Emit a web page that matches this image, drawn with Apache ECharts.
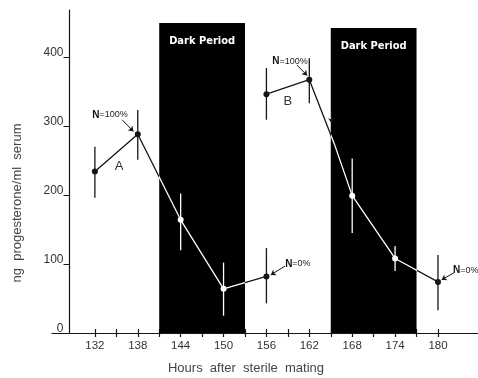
<!DOCTYPE html>
<html>
<head>
<meta charset="utf-8">
<script src="https://cdn.jsdelivr.net/npm/echarts@6/dist/echarts.min.js"></script>
<style>
html,body{margin:0;padding:0;background:#fff;}
#c{width:478px;height:378px;}
</style>
</head>
<body>
<div id="c"></div>
<script>
// ---- data ----
const hoursA = [132, 138, 144, 150, 156];
const meanA  = [234, 288, 164, 64, 82];
const lowA   = [196, 251, 120, 25, 43];
const highA  = [270, 323, 202, 102, 123];

const hoursB = [156, 162, 168, 174, 180];
const meanB  = [346, 367, 199, 108, 74];
const lowB   = [309, 333, 145, 90, 33];
const highB  = [384, 398, 253, 126, 113];
const kinkB  = [165.5, 274];   // bend of curve B at onset of darkness

const darkPeriods = [[141, 153], [165, 177]];
const darkTops = [449, 442];
const darkLabel = 'Dark Period';

const xTickValues  = [132,135,138,141,144,147,150,153,156,159,162,165,168,171,174,177,180];
const xLabelValues = [132,138,144,150,156,162,168,174,180];
const yTickValues  = [0,100,200,300,400];

const xTitle = 'Hours  after  sterile  mating';
const yTitle = 'ng  progesterone/ml  serum';

// annotations: [x, y, text]
const annoTexts = [
  [134.1, 316, '{b|N}=100%'],
  [159.3, 394, '{b|N}=100%'],
  [160.4, 100, '{b|N}=0%'],
  [183.9, 91, '{b|N}=0%'],
  [135.4, 242, 'A'],
  [159.0, 335, 'B']
];
// arrows: [x1,y1,x2,y2]
const annoArrows = [
  [135.8, 309, 137.4, 292],
  [160.3, 388, 161.7, 373],
  [158.6, 97, 156.6, 84],
  [182.2, 87, 180.5, 77],
  [165.1, 320, 165.1, 304]
];

// ---- build ----
const inDark = x => darkPeriods.some(p => x > p[0] && x < p[1]);
const lineA = hoursA.map((h, i) => [h, meanA[i]]);
const lineB = [[hoursB[0], meanB[0]], [hoursB[1], meanB[1]],
  {value: kinkB, symbol: 'none'},
  ...hoursB.slice(2).map((h, i) => [h, meanB[i + 2]])];
const errData = hoursA.map((h, i) => [h, lowA[i], highA[i]])
  .concat(hoursB.map((h, i) => [h, lowB[i], highB[i]]));

const FONT = "'Liberation Sans', Arial, sans-serif";
const INK = '#151515';

const chart = echarts.init(document.getElementById('c'), null, {renderer: 'canvas'});
const option = {
  backgroundColor: '#fff',
  animation: false,
  grid: {left: 52, right: 0, top: 10, bottom: 45, containLabel: false},
  xAxis: [{
    type: 'value', min: 126, max: 185.6,
    axisLine: {lineStyle: {color: INK, width: 1.2}},
    splitLine: {show: false},
    axisTick: {show: true, length: 4, customValues: xTickValues, lineStyle: {color: INK, width: 1.2}},
    axisLabel: {customValues: xLabelValues, margin: 7, color: '#333', fontSize: 11.5, fontFamily: FONT}
  }, {
    type: 'value', min: 126, max: 185.6, position: 'bottom',
    axisLine: {show: false},
    splitLine: {show: false},
    axisTick: {show: true, inside: true, length: 4, customValues: xTickValues, lineStyle: {color: INK, width: 1.2}},
    axisLabel: {show: false}
  }],
  yAxis: {
    type: 'value', min: 0, max: 468, offset: -17.5,
    axisLine: {show: true, lineStyle: {color: INK, width: 1.2}},
    splitLine: {show: false},
    axisTick: {show: true, length: 6, customValues: yTickValues, lineStyle: {color: INK, width: 1}},
    axisLabel: {customValues: yTickValues, margin: 6, color: '#333', fontSize: 12, fontFamily: FONT,
      verticalAlign: 'bottom', lineHeight: 8}
  },
  visualMap: {
    type: 'piecewise', show: false, dimension: 0, seriesIndex: [1, 2],
    pieces: darkPeriods.map(p => ({gt: p[0], lt: p[1], color: '#ffffff'})),
    outOfRange: {color: INK}
  },
  graphic: [
    {type: 'text', x: 17, y: 203, rotation: Math.PI / 2,
      style: {text: yTitle, fill: '#444', font: "13px 'Liberation Sans', Arial, sans-serif",
        textAlign: 'center', textVerticalAlign: 'middle'}},
    {type: 'text', x: 246, y: 368,
      style: {text: xTitle, fill: '#444', font: "13px 'Liberation Sans', Arial, sans-serif",
        textAlign: 'center', textVerticalAlign: 'middle'}}
  ],
  series: [
    {
      type: 'line', data: [], z: 1, silent: true,
      markArea: {
        silent: true,
        itemStyle: {color: '#000', opacity: 1},
        label: {show: true, position: 'insideTop', distance: 13, color: '#fff',
          fontFamily: "'Liberation Sans Narrow', 'DejaVu Sans Condensed', sans-serif",
          fontWeight: 'bold', fontSize: 11},
        data: darkPeriods.map((p, i) => [{name: darkLabel, coord: [p[0], 0]}, {coord: [p[1], darkTops[i]]}])
      }
    },
    {
      type: 'line', name: 'A', data: lineA, z: 4,
      symbol: 'circle', symbolSize: 6, showSymbol: true,
      lineStyle: {width: 1.3},
      markPoint: {
        symbol: 'rect', symbolSize: 1, itemStyle: {color: 'transparent'},
        label: {show: true, position: 'inside', color: '#222', fontFamily: FONT, fontSize: 9,
          rich: {b: {fontWeight: 'bold', fontSize: 10, color: '#111'}}},
        data: annoTexts.map(a => ({coord: [a[0], a[1]], value: a[2],
          label: a[2].length === 1 ? {fontSize: 13, color: '#333', formatter: a[2]} : {formatter: a[2]}}))
      },
      markLine: {
        silent: true, symbol: ['none', 'arrow'], symbolSize: 5,
        lineStyle: {color: INK, width: 1, type: 'solid'},
        label: {show: false},
        data: annoArrows.map(a => [{coord: [a[0], a[1]]}, {coord: [a[2], a[3]]}])
      }
    },
    {
      type: 'line', name: 'B', data: lineB, z: 4,
      symbol: 'circle', symbolSize: 6, showSymbol: true,
      lineStyle: {width: 1.3}
    },
    {
      type: 'custom', name: 'err', z: 3, data: errData,
      renderItem: function (params, api) {
        const x = api.value(0);
        const p1 = api.coord([x, api.value(1)]);
        const p2 = api.coord([x, api.value(2)]);
        return {type: 'line', shape: {x1: p1[0], y1: p1[1], x2: p2[0], y2: p2[1]},
          style: {stroke: inDark(x) ? '#fff' : INK, lineWidth: 1.3}};
      }
    }
  ]
};
chart.setOption(option);
</script>
</body>
</html>
